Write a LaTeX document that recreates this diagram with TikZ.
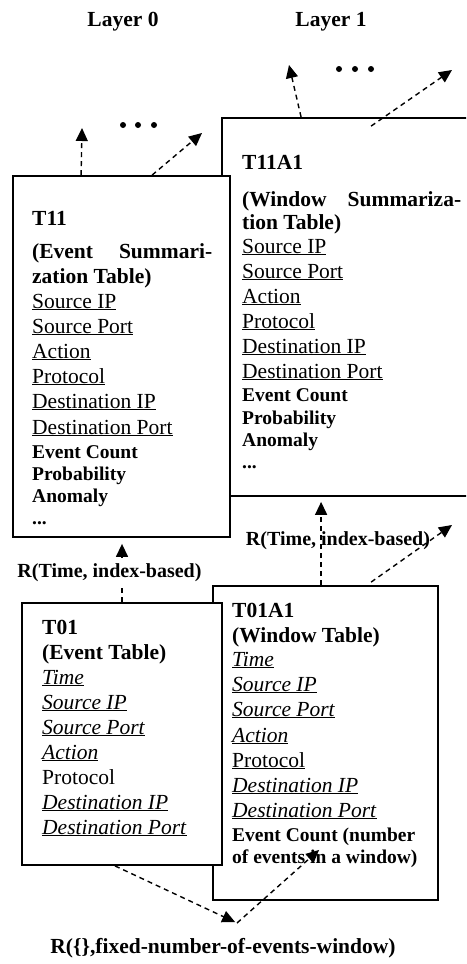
\documentclass[tikz,border=0pt]{standalone}
\usepackage{fontspec}
\setmainfont{Liberation Serif}
\usetikzlibrary{arrows.meta,calc}
\tikzset{
 box/.style={draw, line width=1.8pt, fill=white, rectangle, inner sep=0pt},
 txt/.style={anchor=base west, inner sep=0pt, font=\fontsize{21.5}{25}\selectfont},
 hdr/.style={anchor=base west, inner sep=0pt, font=\fontsize{21.5}{25}\selectfont\bfseries},
 sml/.style={anchor=base west, inner sep=0pt, font=\fontsize{19.5}{22}\selectfont\bfseries},
 rel/.style={anchor=base, inner sep=0pt, font=\fontsize{20}{24}\selectfont\bfseries},
 ttl/.style={anchor=base, inner sep=0pt, font=\fontsize{21.5}{25}\selectfont\bfseries},
 dasharrow/.style={line width=1.4pt, dash pattern=on 5pt off 4pt, -{Triangle[length=13pt,width=12pt]}},
 dotmark/.style={fill=black},
}
\begin{document}
\begin{tikzpicture}[x=1pt,y=-1pt]
\useasboundingbox (0,0) rectangle (466,964);
\clip (0,0) rectangle (466,964);

% titles
\node[ttl] (l0) at (123,26) {Layer 0};
\node[ttl] (l1) at (331,26) {Layer 1};

% ---------- T11A1 (layer 1, upper) ----------
\node[box, minimum width=248pt, minimum height=378pt] (t11a1) at (346,307) {};
\coordinate (u3) at (289,65);
\coordinate (u4) at (452,70);
\draw[dasharrow] ([xshift=80pt]t11a1.north west) -- (u3);
\draw[dasharrow] ([xshift=150pt,yshift=-9pt]t11a1.north west) -- (u4);
\fill[dotmark] (339,69) circle (3pt) (355,69) circle (3pt) (371,69) circle (3pt);

\node[hdr] (a1) at (242,169) {T11A1};
\node[hdr] (a2) at (242,206) {\hbox to 219pt{(Window\hfill Summariza-}};
\node[hdr] (a3) at (242,229) {tion Table)};
\node[txt] (a4) at (242,253) {\underline{Source IP}};
\node[txt] (a5) at (242,278) {\underline{Source Port}};
\node[txt] (a6) at (242,303) {\underline{Action}};
\node[txt] (a7) at (242,328) {\underline{Protocol}};
\node[txt] (a8) at (242,353) {\underline{Destination IP}};
\node[txt] (a9) at (242,378) {\underline{Destination Port}};
\node[sml] (a10) at (242,401) {Event Count};
\node[sml] (a11) at (242,424) {Probability};
\node[sml] (a12) at (242,446) {Anomaly};
\node[sml] (a13) at (242,468) {...};

% ---------- T11 (layer 0, upper) ----------
\node[box, minimum width=217pt, minimum height=361pt] (t11) at (121.5,356.5) {};
\coordinate (u1) at (82,128);
\coordinate (u2) at (202,133);
\draw[dasharrow] ([xshift=69pt]t11.north west) -- (u1);
\draw[dasharrow] ([xshift=140pt]t11.north west) -- (u2);
\fill[dotmark] (123,125) circle (3pt) (138,125) circle (3pt) (154,125) circle (3pt);

\node[hdr] (b1) at (32,225) {T11};
\node[hdr] (b2) at (32,258) {\hbox to 180pt{(Event\hfill Summari-}};
\node[hdr] (b3) at (32,283) {zation Table)};
\node[txt] (b4) at (32,308) {\underline{Source IP}};
\node[txt] (b5) at (32,333) {\underline{Source Port}};
\node[txt] (b6) at (32,358) {\underline{Action}};
\node[txt] (b7) at (32,383) {\underline{Protocol}};
\node[txt] (b8) at (32,408) {\underline{Destination IP}};
\node[txt] (b9) at (32,434) {\underline{Destination Port}};
\node[sml] (b10) at (32,458) {Event Count};
\node[sml] (b11) at (32,480) {Probability};
\node[sml] (b12) at (32,502) {Anomaly};
\node[sml] (b13) at (32,524) {...};

% ---------- T01A1 (layer 1, lower) ----------
\node[box, minimum width=225pt, minimum height=314pt] (t01a1) at (325.5,743) {};
\node[hdr] (c1) at (232,617) {T01A1};
\node[hdr] (c2) at (232,642) {(Window Table)};
\node[txt] (c3) at (232,666) {\underline{\textit{Time}}};
\node[txt] (c4) at (232,691) {\underline{\textit{Source IP}}};
\node[txt] (c5) at (232,716) {\underline{\textit{Source Port}}};
\node[txt] (c6) at (232,742) {\underline{\textit{Action}}};
\node[txt] (c7) at (232,767) {\underline{Protocol}};
\node[txt] (c8) at (232,792) {\underline{\textit{Destination IP}}};
\node[txt] (c9) at (232,817) {\underline{\textit{Destination Port}}};
\node[sml] (c10) at (232,841) {Event Count (number};
\node[sml] (c11) at (232,863) {of events in a window)};

% ---------- T01 (layer 0, lower) ----------
\node[box, minimum width=200pt, minimum height=262pt] (t01) at (122,734) {};
\node[hdr] (d1) at (42,634) {T01};
\node[hdr] (d2) at (42,659) {(Event Table)};
\node[txt] (d3) at (42,684) {\underline{\textit{Time}}};
\node[txt] (d4) at (42,709) {\underline{\textit{Source IP}}};
\node[txt] (d5) at (42,734) {\underline{\textit{Source Port}}};
\node[txt] (d6) at (42,759) {\underline{\textit{Action}}};
\node[txt] (d7) at (42,784) {Protocol};
\node[txt] (d8) at (42,809) {\underline{\textit{Destination IP}}};
\node[txt] (d9) at (42,834) {\underline{\textit{Destination Port}}};

% ---------- relations ----------
\draw[dasharrow, shorten >=6pt] (t01.north) -- (t01.north |- t11.south);
\node[rel, fill=white, inner xsep=2pt, inner ysep=5pt] (rl) at (109.5,577) {R(Time, index-based)};

\coordinate (u5) at (452,525);
\draw[dasharrow, shorten >=5pt] ([xshift=109pt]t01a1.north west) -- ([xshift=109pt]t01a1.north west |- t11a1.south);
\draw[dasharrow] ([xshift=159pt,yshift=3pt]t01a1.north west) -- (u5);
\node[rel] (rr) at (338,545) {R(Time, index-based)};

\coordinate (v) at (237,923);
\draw[dasharrow, shorten >=2pt] ([xshift=-7pt]t01.south) -- (v);
\draw[dasharrow] (v) -- ([xshift=107pt,yshift=51pt]t01a1.south west);
\node[ttl] (rb) at (223,953) {R(\{\},fixed-number-of-events-window)};
\end{tikzpicture}
\end{document}
